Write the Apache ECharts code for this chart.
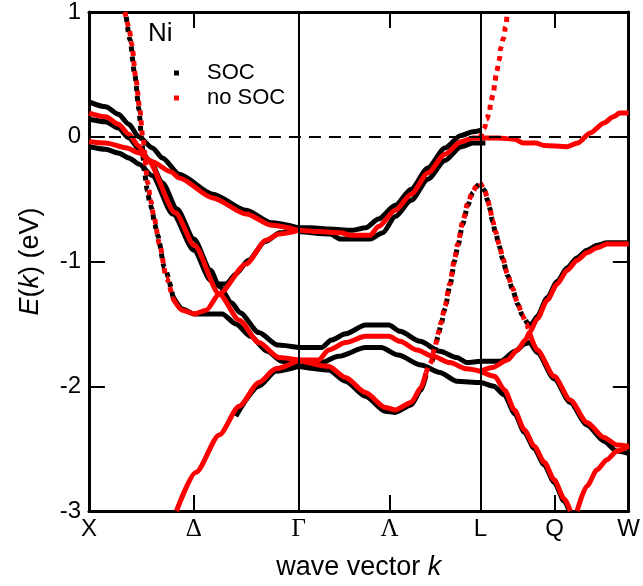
<!DOCTYPE html>
<html>
<head>
<meta charset="utf-8">
<script src="https://cdn.jsdelivr.net/npm/echarts@6.0.0/dist/echarts.min.js"></script>
<style>
html, body { margin: 0; padding: 0; background: #fff; }
#chart { width: 643px; height: 586px; }
</style>
</head>
<body>
<div id="chart"></div>
<script>
// k path X-Γ-L-W (units of 2π/a), energies in eV
const kTickPos = [0, 0.5, 1, 1.433, 1.866, 2.22, 2.573];
const kTickNames = ['X', 'Δ', 'Γ', 'Λ', 'L', 'Q', 'W'];
const kInnerTicks = [0.5, 1.433, 2.22];
const eInnerTicks = [-2, -1, 0];
const kSymLines = [1, 1.866];
const eRange = [-3, 1];

// no SOC (red)
const redA_dot = [[0.171,1.0],[0.19,0.88],[0.204,0.74],[0.223,0.47],[0.242,0.22],[0.256,0.0],[0.28,-0.37],[0.294,-0.51],[0.308,-0.63],[0.336,-0.86],[0.369,-1.13],[0.398,-1.29]];
const redA = [[0.398,-1.29],[0.445,-1.39],[0.502,-1.42],[0.559,-1.39],[0.621,-1.26],[0.749,-1.02],[0.844,-0.83],[0.905,-0.78],[1.0,-0.75]];
const redB = [[0,0.19],[0.08,0.16],[0.14,0.10],[0.19,0.02],[0.237,-0.075],[0.28,-0.19],[0.412,-0.61],[0.502,-0.87],[0.621,-1.26],[0.716,-1.47],[0.81,-1.65],[0.905,-1.77],[1.0,-1.79]];
const redC = [[0,-0.04],[0.08,-0.05],[0.18,-0.09],[0.24,-0.13],[0.30,-0.20],[0.39,-0.28],[0.43,-0.33],[0.59,-0.49],[0.75,-0.62],[0.87,-0.71],[1.0,-0.75]];
const redD = [[0.417,-3.0],[0.51,-2.69],[0.621,-2.39],[0.716,-2.16],[0.81,-1.97],[0.89,-1.86],[1.0,-1.79]];
const redE = [[1.0,-0.75],[1.1,-0.76],[1.2,-0.77],[1.25,-0.79],[1.34,-0.79],[1.38,-0.72],[1.46,-0.59],[1.536,-0.46],[1.616,-0.29],[1.697,-0.14],[1.773,-0.04],[1.83,-0.01],[1.866,-0.01]];
const redF = [[1.866,-0.01],[1.95,-0.01],[2.03,-0.02],[2.07,-0.05],[2.13,-0.05],[2.17,-0.07],[2.28,-0.08],[2.33,-0.05],[2.39,0.03],[2.455,0.11],[2.50,0.16],[2.53,0.19],[2.573,0.19]];
const redG_dot = [[1.866,-0.01],[1.886,0.07],[1.896,0.14],[1.91,0.20],[1.915,0.28],[1.929,0.35],[1.934,0.43],[1.943,0.52],[1.957,0.62],[1.962,0.71],[1.976,0.79],[1.986,0.88],[1.995,1.0]];
const redH = [[1.0,-1.79],[1.142,-1.84],[1.223,-1.93],[1.318,-2.05],[1.412,-2.17],[1.46,-2.19],[1.536,-2.13],[1.583,-2.01],[1.607,-1.89]];
const redH_dot = [[1.607,-1.89],[1.63,-1.81],[1.649,-1.69],[1.664,-1.58],[1.678,-1.49],[1.697,-1.36],[1.72,-1.18],[1.744,-0.97],[1.758,-0.86],[1.782,-0.68],[1.806,-0.53],[1.829,-0.44],[1.853,-0.38],[1.866,-0.37]];
const redJ_dot = [[1.866,-0.37],[1.886,-0.42],[1.9,-0.50],[1.91,-0.56],[1.924,-0.67],[1.938,-0.76],[1.957,-0.87],[1.972,-0.97],[1.995,-1.10],[2.019,-1.21],[2.043,-1.33],[2.066,-1.43],[2.085,-1.50],[2.10,-1.57]];
const redJ = [[2.10,-1.57],[2.137,-1.71],[2.218,-1.92],[2.294,-2.11],[2.374,-2.29],[2.455,-2.41],[2.517,-2.47],[2.573,-2.48]];
const redI = [[1.866,-1.88],[1.924,-1.85],[1.995,-1.79],[2.043,-1.71],[2.08,-1.63],[2.10,-1.57],[2.137,-1.46],[2.185,-1.31],[2.232,-1.18],[2.28,-1.07],[2.327,-0.99],[2.374,-0.93],[2.422,-0.89],[2.469,-0.86],[2.573,-0.86]];
const redK = [[1.866,-1.88],[1.934,-1.92],[1.981,-2.03],[2.028,-2.19],[2.076,-2.35],[2.123,-2.48],[2.171,-2.61],[2.218,-2.75],[2.265,-2.90],[2.295,-3.0]];
const redL = [[2.327,-3.0],[2.374,-2.80],[2.422,-2.67],[2.469,-2.59],[2.517,-2.52],[2.573,-2.48]];
const redM = [[1.0,-1.79],[1.095,-1.79],[1.142,-1.71],[1.223,-1.65],[1.318,-1.60],[1.43,-1.60],[1.483,-1.64],[1.564,-1.71],[1.64,-1.76],[1.72,-1.81],[1.801,-1.86],[1.866,-1.88]];

// SOC (black)
const blkA_dot = [[0.175,1.0],[0.195,0.78],[0.218,0.50],[0.238,0.22],[0.25,0.0],[0.265,-0.29],[0.278,-0.43],[0.29,-0.53],[0.30,-0.58],[0.313,-0.70],[0.327,-0.79],[0.36,-1.05],[0.40,-1.28]];
const blkA = [[0.40,-1.28],[0.445,-1.38],[0.50,-1.42],[0.56,-1.42],[0.635,-1.42],[0.70,-1.50],[0.77,-1.60],[0.85,-1.72],[0.92,-1.80],[1.0,-1.84]];
const blkB1 = [[0,0.28],[0.08,0.24],[0.14,0.18],[0.19,0.10],[0.237,0.0],[0.303,-0.09],[0.35,-0.17],[0.43,-0.30],[0.59,-0.46],[0.75,-0.59],[0.87,-0.69],[1.0,-0.73]];
const blkB2 = [[0,0.14],[0.08,0.12],[0.14,0.07],[0.19,-0.01],[0.24,-0.10],[0.29,-0.19],[0.35,-0.37],[0.42,-0.58],[0.50,-0.82],[0.58,-1.07],[0.621,-1.20],[0.68,-1.33],[0.72,-1.41],[0.81,-1.57],[0.90,-1.67],[1.0,-1.69]];
const blkB3 = [[0,-0.08],[0.08,-0.10],[0.14,-0.13],[0.19,-0.17],[0.24,-0.22],[0.30,-0.31],[0.40,-0.62],[0.50,-0.91],[0.58,-1.15],[0.607,-1.18],[0.654,-1.18],[0.70,-1.10],[0.76,-0.99],[0.84,-0.84],[0.91,-0.77],[1.0,-0.74]];
const blkD = [[0.70,-2.24],[0.81,-2.00],[0.89,-1.88],[1.0,-1.84]];
const blkE1 = [[1.0,-0.73],[1.06,-0.73],[1.15,-0.74],[1.25,-0.75],[1.32,-0.73],[1.38,-0.66],[1.46,-0.55],[1.536,-0.42],[1.616,-0.25],[1.697,-0.09],[1.773,0.01],[1.83,0.04],[1.866,0.05]];
const blkE2 = [[1.0,-0.76],[1.15,-0.78],[1.2,-0.82],[1.34,-0.82],[1.40,-0.77],[1.46,-0.64],[1.536,-0.51],[1.616,-0.34],[1.697,-0.19],[1.773,-0.08],[1.83,-0.05],[1.89,-0.05]];
const blkG1 = [[1.0,-1.69],[1.109,-1.69],[1.156,-1.63],[1.223,-1.58],[1.318,-1.51],[1.43,-1.51],[1.483,-1.56],[1.578,-1.64],[1.673,-1.72],[1.754,-1.77],[1.801,-1.81],[1.866,-1.80],[1.962,-1.80],[2.03,-1.72],[2.08,-1.66],[2.10,-1.65],[2.137,-1.73],[2.218,-1.94],[2.294,-2.13],[2.374,-2.31],[2.455,-2.44],[2.517,-2.52],[2.573,-2.54]];
const blkG2 = [[1.0,-1.84],[1.095,-1.82],[1.19,-1.76],[1.318,-1.69],[1.393,-1.69],[1.474,-1.75],[1.583,-1.83],[1.673,-1.89],[1.754,-1.96],[1.866,-1.97],[1.93,-2.0],[1.98,-2.07],[2.03,-2.22],[2.076,-2.37],[2.123,-2.50],[2.17,-2.63],[2.218,-2.77],[2.265,-2.92],[2.29,-3.0]];
const blkH = [[1.0,-1.84],[1.142,-1.87],[1.223,-1.96],[1.318,-2.08],[1.412,-2.20],[1.46,-2.21],[1.536,-2.15],[1.583,-2.03],[1.607,-1.91]];
const blkH_dot = [[1.607,-1.91],[1.63,-1.83],[1.649,-1.71],[1.664,-1.60],[1.678,-1.51],[1.697,-1.38],[1.72,-1.20],[1.744,-0.99],[1.758,-0.88],[1.782,-0.70],[1.806,-0.55],[1.829,-0.45],[1.853,-0.39],[1.866,-0.38]];
const blkJ_dot = [[1.866,-0.38],[1.886,-0.43],[1.9,-0.51],[1.91,-0.57],[1.924,-0.68],[1.938,-0.77],[1.957,-0.88],[1.972,-0.98],[1.995,-1.11],[2.019,-1.22],[2.043,-1.34],[2.066,-1.43],[2.09,-1.50]];
const blkJ = [[2.09,-1.50],[2.11,-1.50],[2.137,-1.44],[2.185,-1.29],[2.232,-1.16],[2.28,-1.05],[2.327,-0.97],[2.374,-0.91],[2.422,-0.87],[2.469,-0.85],[2.573,-0.85]];

const FONT = 'Liberation Sans';
const W = 643, H = 586;
const GRID = { left: 89, right: 11, top: 10, bottom: 74 };
const kMax = kTickPos[kTickPos.length - 1];
const TICK_PX = 16;
// tick length expressed in axis units
const tickK = TICK_PX * kMax / (W - GRID.left - GRID.right);
const tickE = TICK_PX * (eRange[1] - eRange[0]) / (H - GRID.top - GRID.bottom);

function band(name, data, dotted) {
    let color = name === 'SOC' ? '#000000' : '#ff0000';
    return {
        name: name,
        type: 'line',
        data: data,
        showSymbol: false,
        symbol: 'none',
        smooth: 0.25,
        smoothMonotone: 'x',
        silent: true,
        itemStyle: { color: color },
        lineStyle: {
            color: color,
            width: 5,
            cap: 'butt',
            type: dotted ? [5, 5] : 'solid',
            dashOffset: name === 'SOC' ? 5 : 0
        }
    };
}

let series = [
    band('SOC', blkA_dot, true), band('SOC', blkA),
    band('SOC', blkB1), band('SOC', blkB2), band('SOC', blkB3), band('SOC', blkD),
    band('SOC', blkE1), band('SOC', blkE2),
    band('SOC', blkG1), band('SOC', blkG2),
    band('SOC', blkH), band('SOC', blkH_dot, true),
    band('SOC', blkJ_dot, true), band('SOC', blkJ),
    band('no SOC', redA_dot, true), band('no SOC', redA),
    band('no SOC', redB), band('no SOC', redC), band('no SOC', redD),
    band('no SOC', redE), band('no SOC', redF), band('no SOC', redG_dot, true),
    band('no SOC', redH), band('no SOC', redH_dot, true),
    band('no SOC', redJ_dot, true), band('no SOC', redJ),
    band('no SOC', redI), band('no SOC', redK), band('no SOC', redL), band('no SOC', redM)
];

// symmetry lines, Fermi level and the inner ticks of the frame, all under the bands
const solid2 = { color: '#000', width: 2, type: 'solid' };
let frameMarks = kSymLines.map(v => ({ xAxis: v, lineStyle: solid2 }));
frameMarks.push({ yAxis: 0, lineStyle: { color: '#000', width: 2, type: [12, 8] } });
kInnerTicks.forEach(v => {
    frameMarks.push([{ coord: [v, eRange[0]], lineStyle: solid2 }, { coord: [v, eRange[0] + tickE] }]);
    frameMarks.push([{ coord: [v, eRange[1]], lineStyle: solid2 }, { coord: [v, eRange[1] - tickE] }]);
});
eInnerTicks.forEach(e => {
    frameMarks.push([{ coord: [0, e], lineStyle: solid2 }, { coord: [tickK, e] }]);
    frameMarks.push([{ coord: [kMax, e], lineStyle: solid2 }, { coord: [kMax - tickK, e] }]);
});
series[0].markLine = {
    silent: true,
    symbol: 'none',
    animation: false,
    label: { show: false },
    lineStyle: solid2,
    data: frameMarks
};

const boxLine = { show: true, onZero: false, lineStyle: { color: '#000', width: 3 } };

let chart = echarts.init(document.getElementById('chart'));
let option = {
    animation: false,
    title: {
        text: 'Ni',
        left: 148,
        top: 21,
        padding: 0,
        textStyle: { fontFamily: FONT, fontSize: 26, fontWeight: 'normal', color: '#000' }
    },
    legend: {
        data: ['SOC', 'no SOC'],
        orient: 'vertical',
        left: 169,
        top: 57,
        icon: 'rect',
        itemWidth: 5,
        itemHeight: 5,
        itemGap: 3,
        selectedMode: false,
        textStyle: { fontFamily: FONT, fontSize: 22, color: '#000', padding: [0, 0, 0, 23] }
    },
    grid: GRID,
    xAxis: [{
        type: 'value',
        min: 0,
        max: kMax,
        position: 'bottom',
        name: 'wave vector {i|k}',
        nameLocation: 'middle',
        nameGap: 43,
        nameTextStyle: {
            fontFamily: FONT, fontSize: 27, color: '#000',
            rich: { i: { fontFamily: FONT, fontSize: 27, fontStyle: 'italic', color: '#000' } }
        },
        axisLine: boxLine,
        axisTick: { show: false },
        axisLabel: {
            customValues: kTickPos,
            margin: 6,
            fontFamily: FONT,
            fontSize: 24,
            color: '#000',
            formatter: v => {
                let i = kTickPos.findIndex(p => Math.abs(p - v) < 1e-6);
                let t = i < 0 ? '' : kTickNames[i];
                return /[ΔΓΛ]/.test(t) ? '{g|' + t + '}' : t;
            },
            rich: { g: { fontFamily: 'Liberation Serif', fontSize: 25, color: '#000' } }
        },
        splitLine: { show: false }
    }, {
        type: 'value',
        min: 0,
        max: kMax,
        position: 'top',
        axisLine: boxLine,
        axisTick: { show: false },
        axisLabel: { show: false },
        splitLine: { show: false }
    }],
    yAxis: [{
        type: 'value',
        min: eRange[0],
        max: eRange[1],
        interval: 1,
        position: 'left',
        name: '{i|E}({i|k}) (eV)',
        nameLocation: 'middle',
        nameGap: 45,
        nameTextStyle: {
            fontFamily: FONT, fontSize: 27, color: '#000',
            rich: { i: { fontFamily: FONT, fontSize: 27, fontStyle: 'italic', color: '#000' } }
        },
        axisLine: boxLine,
        axisTick: { show: false },
        axisLabel: { margin: 8, fontFamily: FONT, fontSize: 24, color: '#000' },
        splitLine: { show: false }
    }, {
        type: 'value',
        min: eRange[0],
        max: eRange[1],
        interval: 1,
        position: 'right',
        axisLine: boxLine,
        axisTick: { show: false },
        axisLabel: { show: false },
        splitLine: { show: false }
    }],
    series: series
};
chart.setOption(option);
</script>
</body>
</html>
